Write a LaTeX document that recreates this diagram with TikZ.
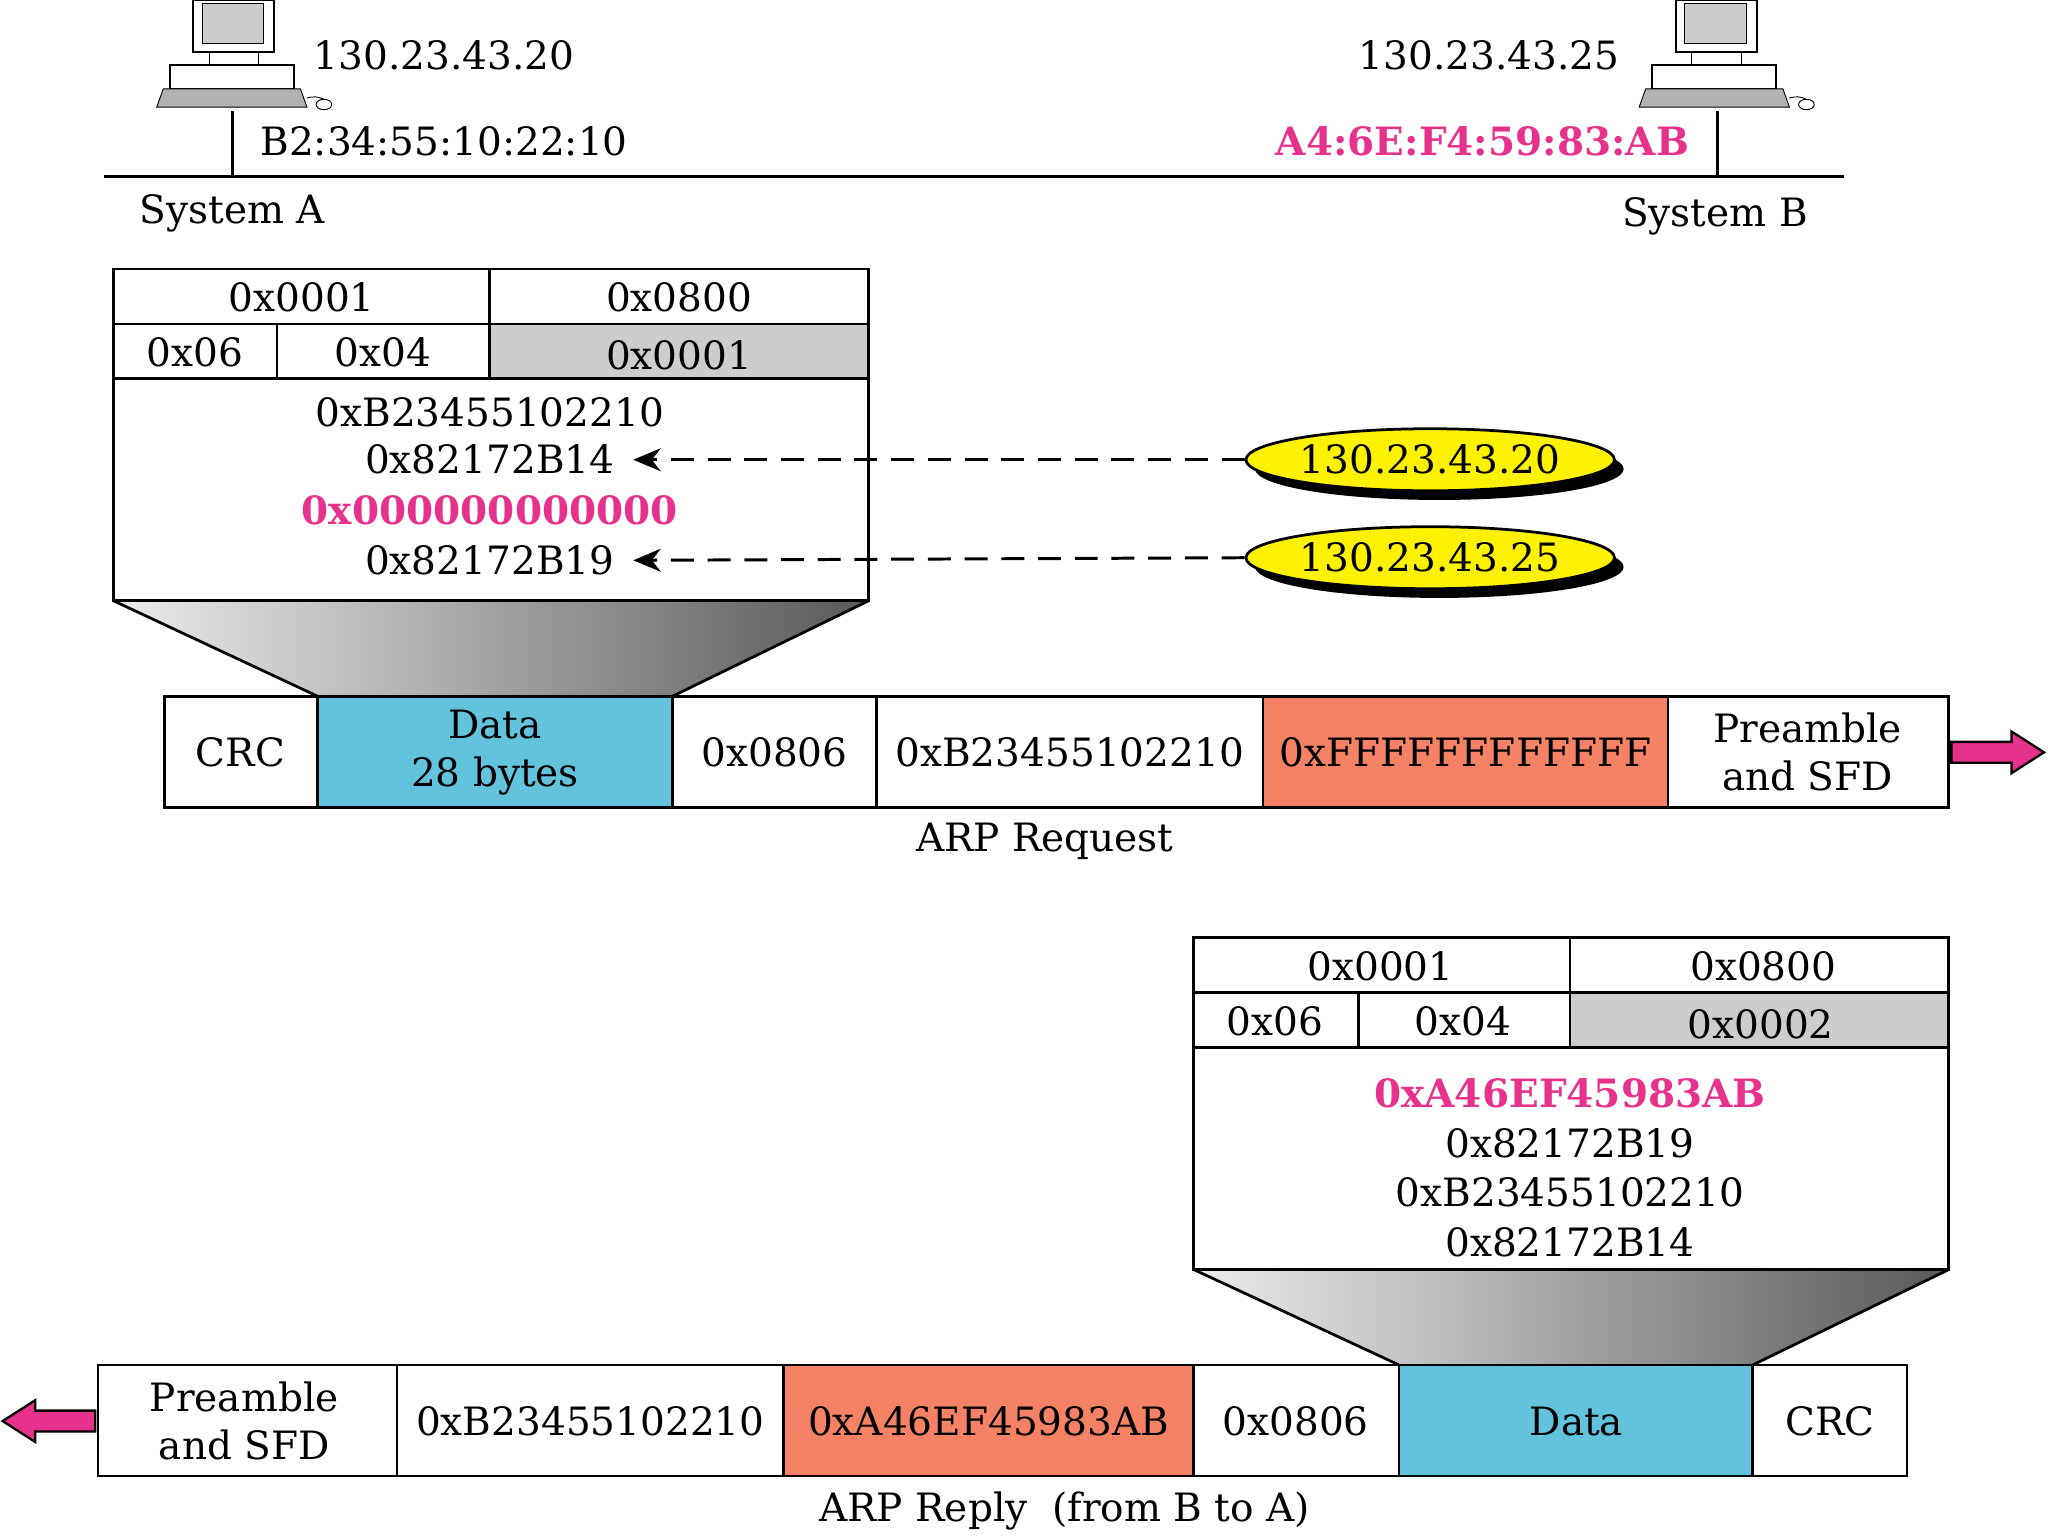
\documentclass[tikz,border=0pt]{standalone}
\usepackage{fontspec}
\setmainfont{DejaVu Serif}
\usetikzlibrary{shapes.geometric,arrows.meta,shadows}
\definecolor{mag}{RGB}{230,50,140}
\definecolor{cy}{RGB}{100,195,220}
\definecolor{sal}{RGB}{245,130,100}
\definecolor{gr}{RGB}{205,205,205}
\begin{document}
\begin{tikzpicture}[x=0.02cm,y=-0.02cm,
  txt/.style={font=\fontsize{17}{19}\selectfont,inner sep=0},
  box/.style={draw,line width=1.2pt},
  ell/.style={ellipse,draw,line width=1.2pt,fill=yellow,minimum width=5.15cm,minimum height=0.95cm,font=\fontsize{17}{19}\selectfont,inner sep=0},
  darr/.style={dashed,line width=1.3pt,dash pattern=on 10pt off 6pt,-{Stealth[length=12pt,width=10pt]}},
  fat/.style={line width=1pt,draw=black,fill=mag}]
\useasboundingbox (0,0) rectangle (1568,1176);
% computers
\foreach \cx/\nm in {180/pcA,1315/pcB}{
  \begin{scope}[shift={(\cx,0)}]
  \draw[fill=white,line width=0.8pt] (-32,0) rectangle (30,40);
  \draw[fill=gray!40] (-25,3) rectangle (22,33);
  \draw[fill=white] (-20,40) rectangle (18,50);
  \draw[fill=white,line width=0.8pt] (-50,50) rectangle (45,68);
  \draw[fill=gray!60] (-55,68) -- (50,68) -- (55,82) -- (-60,82) -- cycle;
  \draw (55,75) .. controls (65,72) and (70,78) .. (72,78);
  \draw[fill=white] (68,80) ellipse (6 and 4);
  \end{scope}}
\draw[line width=1.5pt] (80,135) -- (1412,135);
\draw[line width=1.5pt] (178,85) -- (178,135);
\draw[line width=1.5pt] (1315,85) -- (1315,135);
\node[txt] (ipA) at (340,42) {130.23.43.20};
\node[txt] (macA) at (340,108) {B2:34:55:10:22:10};
\node[txt] (sA) at (178,163) {System A};
\node[txt] (ipB) at (1140,42) {130.23.43.25};
\node[txt,text=mag,font=\fontsize{17}{19}\selectfont\bfseries] (macB) at (1135,108) {A4:6E:F4:59:83:AB};
\node[txt] (sB) at (1313,166) {System B};
% top packet
\shade[left color=gray!15,right color=gray!70!black] (87,460) -- (665,460) -- (515,533) -- (243,533) -- cycle;
\draw[line width=1.2pt] (87,460) -- (243,533) (665,460) -- (515,533);
\fill[gr] (375,248) rectangle (665,290);
\draw[box] (87,206) rectangle (665,460);
\draw[box] (87,248) -- (665,248) (87,290) -- (665,290) (375,206) -- (375,290) (212,248) -- (212,290);
\node[txt] (t1) at (231,228) {0x0001};
\node[txt] (t2) at (520,228) {0x0800};
\node[txt] (t3) at (149,270) {0x06};
\node[txt] (t4) at (293,270) {0x04};
\node[txt] (t5) at (520,272) {0x0001};
\node[txt] (t6) at (375,316) {0xB23455102210};
\node[txt] (t7) at (375,352) {0x82172B14};
\node[txt,text=mag,font=\fontsize{17}{19}\selectfont\bfseries] (t8) at (375,391) {0x000000000000};
\node[txt] (t9) at (375,429) {0x82172B19};
\node[ell,drop shadow={shadow xshift=4pt,shadow yshift=-4pt,fill=black,opacity=1}] (e1) at (1095,352) {130.23.43.20};
\node[ell,drop shadow={shadow xshift=4pt,shadow yshift=-4pt,fill=black,opacity=1}] (e2) at (1095,427) {130.23.43.25};
\draw[darr] (e1.west) -- ([xshift=8pt]t7.east);
\draw[darr] (e2.west) -- ([xshift=8pt]t9.east);
% request frame
\fill[cy] (243,533) rectangle (515,618);
\fill[sal] (967,533) rectangle (1277,618);
\draw[box] (126,533) rectangle (1492,618);
\foreach \x in {243,515,671,967,1277} \draw[box] (\x,533) -- (\x,618);
\node[txt] (r1) at (184,576) {CRC};
\node[txt,align=center] (r2) at (379,576) {Data\\[2pt]28 bytes};
\node[txt] (r3) at (593,576) {0x0806};
\node[txt] (r4) at (819,576) {0xB23455102210};
\node[txt] (r5) at (1122,576) {0xFFFFFFFFFFFF};
\node[txt,align=center] (r6) at (1384,576) {Preamble\\[2pt]and SFD};
\draw[fat] (1494,568) -- (1540,568) -- (1540,560) -- (1565,576) -- (1540,592) -- (1540,584) -- (1494,584) -- cycle;
\node[txt] (lr) at (800,644) {ARP Request};
% bottom packet
\shade[left color=gray!15,right color=gray!70!black] (914,972) -- (1492,972) -- (1342,1045) -- (1071,1045) -- cycle;
\draw[line width=1.2pt] (914,972) -- (1071,1045) (1492,972) -- (1342,1045);
\fill[gr] (1202,760) rectangle (1492,802);
\draw[box] (914,718) rectangle (1492,972);
\draw[box] (914,760) -- (1492,760) (914,802) -- (1492,802) (1202,718) -- (1202,802) (1040,760) -- (1040,802);
\node[txt] (b1) at (1057,740) {0x0001};
\node[txt] (b2) at (1350,740) {0x0800};
\node[txt] (b3) at (976,782) {0x06};
\node[txt] (b4) at (1120,782) {0x04};
\node[txt] (b5) at (1348,784) {0x0002};
\node[txt,text=mag,font=\fontsize{17}{19}\selectfont\bfseries] (b6) at (1202,837) {0xA46EF45983AB};
\node[txt] (b7) at (1202,875) {0x82172B19};
\node[txt] (b8) at (1202,913) {0xB23455102210};
\node[txt] (b9) at (1202,951) {0x82172B14};
% reply frame
\fill[sal] (600,1045) rectangle (914,1130);
\fill[cy] (1071,1045) rectangle (1342,1130);
\draw[box] (75,1045) rectangle (1460,1130);
\foreach \x in {304,600,914,1071,1342} \draw[box] (\x,1045) -- (\x,1130);
\node[txt,align=center] (p1) at (187,1088) {Preamble\\[2pt]and SFD};
\node[txt] (p2) at (452,1088) {0xB23455102210};
\node[txt] (p3) at (757,1088) {0xA46EF45983AB};
\node[txt] (p4) at (992,1088) {0x0806};
\node[txt] (p5) at (1207,1088) {Data};
\node[txt] (p6) at (1401,1088) {CRC};
\draw[fat] (73,1080) -- (27,1080) -- (27,1072) -- (2,1088) -- (27,1104) -- (27,1096) -- (73,1096) -- cycle;
\node[txt] (lp) at (815,1157) {ARP Reply\ \ (from B to A)};
\end{tikzpicture}
\end{document}
